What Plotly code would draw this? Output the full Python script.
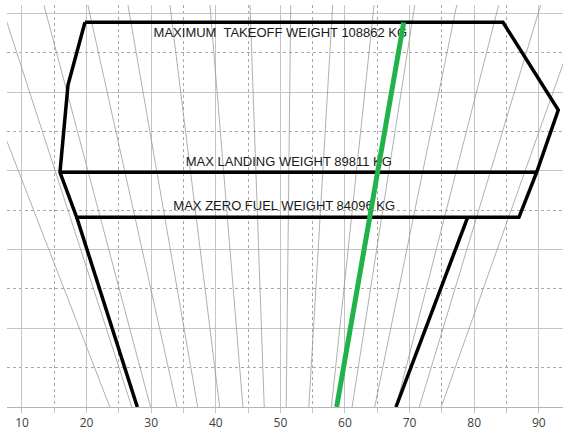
import plotly.graph_objects as go

# ---- data ----
# Envelope outline (CG %MAC, weight kg)
envelope_cg = [19.75, 84.46, 93.02, 89.67, 86.93, 18.47, 15.88, 17.12, 19.75]
envelope_weight = [108862, 108862, 97723, 89811, 84096, 84096, 89811, 100898, 108862]

# Max landing weight line
mlw_cg = [15.88, 89.67]
mlw_weight = [89811, 89811]

# Lower envelope limits
lower_left_cg = [18.47, 27.85]
lower_left_weight = [84096, 60000]
lower_right_cg = [78.99, 67.89]
lower_right_weight = [84096, 60000]

# Green line
green_cg = [69.09, 58.71]
green_weight = [108862, 60000]

# Fan of thin reference lines: CG at bottom (60000 kg) and at top (111060 kg)
fan_bottom_cg = [23.6, 27.0, 29.9, 34.0, 37.2, 40.6, 44.2, 47.5, 50.9, 54.4, 57.9, 61.1, 64.6, 67.9, 71.5, 74.9]
fan_top_cg = [-0.5, 6.8, 13.4, 20.2, 26.4, 32.9, 39.1, 45.3, 51.6, 58.1, 64.5, 70.8, 77.3, 83.8, 90.3, 97.0]
fan_bottom_weight = 60000
fan_top_weight = 111060

labels = ["MAXIMUM  TAKEOFF WEIGHT 108862 KG", "MAX LANDING WEIGHT 89811 KG", "MAX ZERO FUEL WEIGHT 84096 KG"]
label_cg = [50.0, 51.3, 50.6]
label_weight = [107375, 90990, 85400]

x_ticks = [10, 20, 30, 40, 50, 60, 70, 80, 90]

fig = go.Figure()

# fan lines
fx, fy = [], []
for b, t in zip(fan_bottom_cg, fan_top_cg):
    fx += [b, t, None]
    fy += [fan_bottom_weight, fan_top_weight, None]
fig.add_trace(go.Scatter(x=fx, y=fy, mode="lines",
                         line=dict(color="#959595", width=0.75),
                         hoverinfo="skip", showlegend=False))

black = dict(color="#000000", width=3.5)
fig.add_trace(go.Scatter(x=envelope_cg, y=envelope_weight, mode="lines", line=black, showlegend=False))
fig.add_trace(go.Scatter(x=mlw_cg, y=mlw_weight, mode="lines", line=black, showlegend=False))
fig.add_trace(go.Scatter(x=lower_left_cg, y=lower_left_weight, mode="lines", line=black, showlegend=False))
fig.add_trace(go.Scatter(x=lower_right_cg, y=lower_right_weight, mode="lines", line=black, showlegend=False))

fig.add_trace(go.Scatter(x=label_cg, y=label_weight, mode="text", text=labels,
                         textposition="middle center",
                         textfont=dict(family="Liberation Sans, Arial, sans-serif", size=13, color="#1a1a1a"),
                         showlegend=False, hoverinfo="skip"))

fig.add_trace(go.Scatter(x=green_cg, y=green_weight, mode="lines",
                         line=dict(color="#22b24c", width=5), showlegend=False))

fig.update_layout(
    width=563, height=432,
    margin=dict(l=7, r=0, t=5, b=25),
    paper_bgcolor="white", plot_bgcolor="white",
    showlegend=False,
    xaxis=dict(range=[7.68, 93.75], tickvals=x_ticks, ticktext=[str(v) for v in x_ticks],
               showgrid=True, gridcolor="#c4c4c4", gridwidth=1,
               zeroline=False, showline=True, linecolor="#b4b4b4", linewidth=1,
               ticks="outside", ticklen=5, tickcolor="#c4c4c4",
               tickfont=dict(family="Open Sans, sans-serif", size=12, color="#404040"),
               minor=dict(dtick=5, tick0=0, showgrid=True, griddash="dot",
                          gridcolor="#a8a8a8", gridwidth=1,
                          ticks="outside", ticklen=5, tickcolor="#c4c4c4")),
    yaxis=dict(range=[60000, 111060], tick0=0, dtick=10000,
               showgrid=True, gridcolor="#c4c4c4", gridwidth=1,
               showticklabels=False, zeroline=False, showline=False, ticks="",
               minor=dict(dtick=5000, tick0=0, showgrid=True, griddash="dot",
                          gridcolor="#a8a8a8", gridwidth=1)),
)

fig.write_html("out.html",
               config={"displayModeBar": False},
               post_script="document.body.style.margin='0';document.body.style.overflow='hidden';")
